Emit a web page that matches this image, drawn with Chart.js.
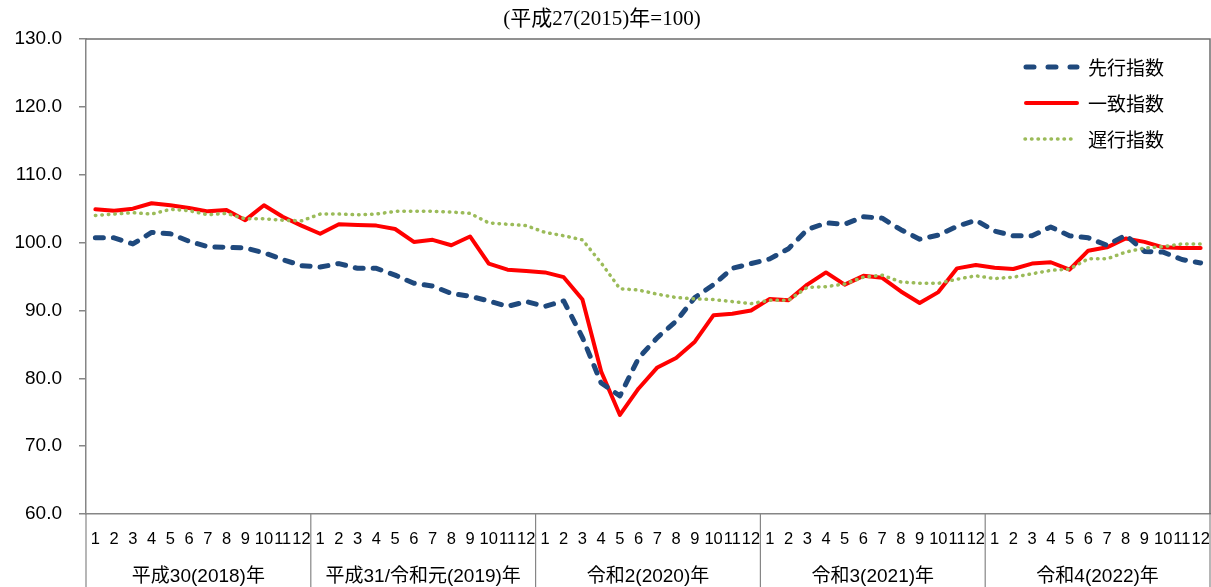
<!DOCTYPE html>
<html>
<head>
<meta charset="utf-8">
<script src="https://cdn.jsdelivr.net/npm/chart.js@4/dist/chart.umd.min.js"></script>
<style>
  html, body { margin: 0; padding: 0; background: #fff; }
  #wrap { width: 1211px; height: 587px; }
</style>
</head>
<body>
<div id="wrap"><canvas id="ciChart" width="1211" height="587"></canvas></div>
<script>
// 年・月のラベル
const years = ['平成30(2018)年', '平成31/令和元(2019)年', '令和2(2020)年', '令和3(2021)年', '令和4(2022)年'];
const months = ['1', '2', '3', '4', '5', '6', '7', '8', '9', '10', '11', '12'];

// 先行指数
const leading = [
  100.7, 100.7, 99.8, 101.5, 101.3, 100.2, 99.4, 99.3, 99.2, 98.5, 97.5, 96.6,
  96.4, 96.9, 96.2, 96.2, 95.2, 94.0, 93.6, 92.5, 92.1, 91.4, 90.6, 91.3,
  90.6, 91.4, 86.0, 79.3, 77.4, 83.0, 86.0, 88.4, 91.9, 93.8, 96.2, 96.9,
  97.6, 99.1, 101.9, 102.9, 102.7, 103.8, 103.6, 101.9, 100.5, 101.1, 102.4, 103.3,
  101.7, 101.0, 101.0, 102.3, 101.0, 100.7, 99.6, 101.1, 98.7, 98.6, 97.5, 97.0
];
// 一致指数
const coincident = [
  104.9, 104.7, 105.0, 105.8, 105.5, 105.1, 104.6, 104.8, 103.3, 105.5, 103.8, 102.5,
  101.3, 102.7, 102.6, 102.5, 102.0, 100.1, 100.4, 99.6, 100.9, 96.9, 96.0, 95.8,
  95.6, 94.9, 91.6, 81.0, 74.6, 78.5, 81.6, 83.0, 85.4, 89.3, 89.5, 90.0,
  91.7, 91.5, 93.8, 95.6, 93.8, 95.1, 94.8, 92.8, 91.1, 92.7, 96.2, 96.7,
  96.3, 96.1, 96.9, 97.1, 96.0, 98.8, 99.3, 100.6, 100.1, 99.3, 99.2, 99.2
];
// 遅行指数
const lagging = [
  104.0, 104.2, 104.4, 104.2, 104.9, 104.7, 104.1, 104.3, 103.5, 103.5, 103.3, 103.2,
  104.2, 104.2, 104.1, 104.2, 104.6, 104.6, 104.6, 104.5, 104.3, 102.9, 102.7, 102.5,
  101.5, 101.0, 100.4, 97.0, 93.2, 93.0, 92.4, 91.9, 91.7, 91.6, 91.3, 91.0,
  91.5, 91.5, 93.4, 93.5, 93.9, 94.9, 95.2, 94.2, 94.0, 94.0, 94.6, 95.1,
  94.7, 94.9, 95.4, 95.9, 96.1, 97.6, 97.6, 98.6, 99.2, 99.4, 99.8, 99.8
];

const yMin = 60, yMax = 130, yStep = 10;
const baseNote = '(平成27(2015)年=100)';

const labels = [];
years.forEach(() => months.forEach(m => labels.push(m)));

const axisColor = '#868686';
const blue = '#1F497D', red = '#FF0000', green = '#9BBB59';

const series = [
  { label: '先行指数', data: leading, color: blue, width: 5, dash: [8, 10], order: 1 },
  { label: '一致指数', data: coincident, color: red, width: 4, dash: [], order: 2 },
  { label: '遅行指数', data: lagging, color: green, width: 3.5, dash: [0.5, 6], order: 0 }
];

// 枠・年区切り・凡例・注記を描く
const decorations = {
  id: 'decorations',
  afterDraw(chart) {
    const ctx = chart.ctx;
    const area = chart.chartArea;
    const x = chart.scales.x;
    ctx.save();

    // 上と右の枠線
    ctx.strokeStyle = '#6e6e6e';
    ctx.lineWidth = 1.5;
    ctx.beginPath();
    ctx.moveTo(area.left, area.top);
    ctx.lineTo(area.right, area.top);
    ctx.lineTo(area.right, area.bottom);
    ctx.stroke();

    // 年の区切り線と年ラベル
    ctx.strokeStyle = axisColor;
    const bottom = chart.height;
    const edges = [area.left];
    for (let g = 1; g < years.length; g++) {
      edges.push((x.getPixelForValue(g * 12 - 1) + x.getPixelForValue(g * 12)) / 2);
    }
    edges.push(area.right);
    ctx.lineWidth = 1.2;
    edges.forEach(px => {
      ctx.beginPath();
      ctx.moveTo(px, area.bottom);
      ctx.lineTo(px, bottom);
      ctx.stroke();
    });
    ctx.fillStyle = '#000';
    ctx.font = '19px "Liberation Sans", "Noto Sans CJK JP"';
    ctx.textAlign = 'center';
    ctx.textBaseline = 'middle';
    years.forEach((y, g) => {
      ctx.fillText(y, (edges[g] + edges[g + 1]) / 2, 577);
    });

    // 注記
    ctx.font = '21px "Liberation Serif", "Noto Sans CJK JP"';
    ctx.fillText(baseNote, 602, 19);

    // 凡例
    ctx.textAlign = 'left';
    ctx.font = '19px "Noto Sans CJK JP"';
    const legendY = [67, 103, 139];
    series.forEach((s, i) => {
      ctx.strokeStyle = s.color;
      ctx.lineWidth = s.width;
      ctx.lineCap = 'round';
      ctx.setLineDash(i === 0 ? [8, 14] : s.dash);
      ctx.beginPath();
      ctx.moveTo(i === 2 ? 1025 : 1026, legendY[i]);
      ctx.lineTo(1077, legendY[i]);
      ctx.stroke();
      ctx.setLineDash([]);
      ctx.fillStyle = '#000';
      ctx.fillText(s.label, 1088, legendY[i] + 1);
    });
    ctx.restore();
  }
};

new Chart(document.getElementById('ciChart'), {
  type: 'line',
  data: {
    labels: labels,
    datasets: series.map(s => ({
      label: s.label,
      data: s.data,
      borderColor: s.color,
      backgroundColor: s.color,
      borderWidth: s.width,
      borderDash: s.dash,
      borderCapStyle: 'round',
      borderJoinStyle: 'round',
      pointRadius: 0,
      tension: 0,
      order: s.order
    }))
  },
  options: {
    responsive: false,
    animation: false,
    layout: { padding: { top: 39, right: 1, left: 0, bottom: 0 } },
    plugins: {
      legend: { display: false },
      tooltip: { enabled: false }
    },
    scales: {
      x: {
        offset: true,
        grid: { display: false, drawTicks: false },
        border: { display: true, color: axisColor, width: 1.5 },
        ticks: {
          autoSkip: false,
          maxRotation: 0,
          minRotation: 0,
          padding: 16,
          color: '#000',
          font: { family: '"Liberation Sans"', size: 16.5 }
        },
        afterFit(scale) {
          scale.height = 73;
          scale.paddingLeft = 0;
          scale.paddingRight = 0;
        }
      },
      y: {
        min: yMin,
        max: yMax,
        grid: { drawOnChartArea: false, drawTicks: true, tickLength: 7, color: axisColor, lineWidth: 1.5 },
        border: { display: true, color: axisColor, width: 1.5 },
        ticks: {
          stepSize: yStep,
          padding: 17,
          color: '#000',
          font: { family: '"Liberation Sans"', size: 19 },
          callback: v => v.toFixed(1)
        },
        afterFit(scale) {
          scale.width = 86;
          scale.paddingTop = 0;
          scale.paddingBottom = 0;
        }
      }
    }
  },
  plugins: [decorations]
});
</script>
</body>
</html>
